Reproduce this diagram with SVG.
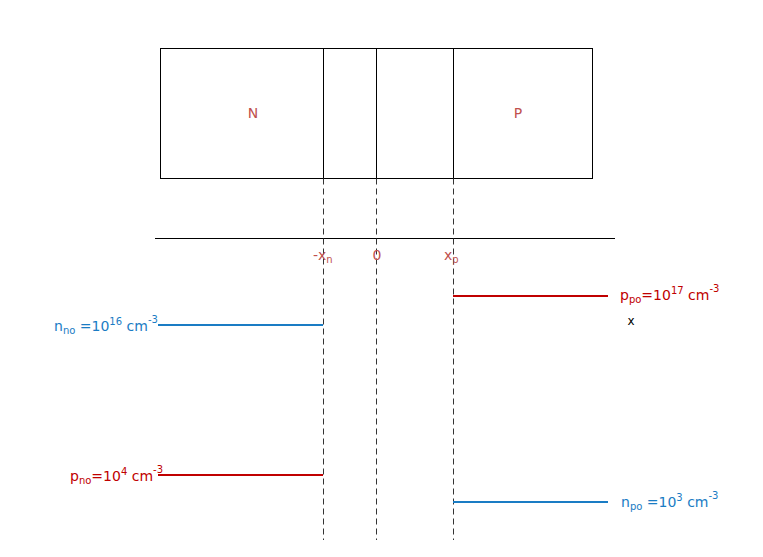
<svg xmlns="http://www.w3.org/2000/svg" width="763" height="557" viewBox="0 0 763 557">
<style>
.solid{stroke:#000;stroke-width:1;fill:none}
.dash{stroke:#333;stroke-width:1;stroke-dasharray:6,4;fill:none}
.blue{stroke:#1a7cc4;stroke-width:2}
.red{stroke:#c00000;stroke-width:2}
text{font-family:"DejaVu Sans",Verdana,sans-serif}
.lbl{fill:#c0504d;font-size:14px}
.tb{fill:#1a7cc4;font-size:14px}
.tr{fill:#c00000;font-size:14px}
.sub{font-size:10px}
</style>
<rect width="763" height="557" fill="#fff"/>
<g id="device">
<rect x="160.5" y="48.5" width="432" height="130" class="solid"/>
<line x1="323.5" y1="48.5" x2="323.5" y2="178.5" class="solid"/>
<line x1="376.5" y1="48.5" x2="376.5" y2="178.5" class="solid"/>
<line x1="453.5" y1="48.5" x2="453.5" y2="178.5" class="solid"/>
</g>
<g id="labelN"><text x="253" y="118" class="lbl" text-anchor="middle">N</text></g>
<g id="labelP"><text x="518" y="118" class="lbl" text-anchor="middle">P</text></g>
<g id="connectors">
<line x1="155" y1="238.5" x2="615" y2="238.5" class="solid"/>
<line x1="323.5" y1="178.5" x2="323.5" y2="540" class="dash"/>
<line x1="376.5" y1="178.5" x2="376.5" y2="540" class="dash"/>
<line x1="453.5" y1="178.5" x2="453.5" y2="540" class="dash"/>
<line x1="158" y1="325" x2="323" y2="325" class="blue"/>
<line x1="453" y1="296" x2="608" y2="296" class="red"/>
<line x1="158" y1="475" x2="323" y2="475" class="red"/>
<line x1="453" y1="502" x2="608" y2="502" class="blue"/>
</g>
<g id="axisLabels">
<text x="313" y="260" class="lbl">-x<tspan class="sub" dy="3">n</tspan></text>
<text x="377" y="260" class="lbl" text-anchor="middle">0</text>
<text x="444" y="260" class="lbl">x<tspan class="sub" dy="3">p</tspan></text>
</g>
<g id="nno"><text x="54" y="331" class="tb">n<tspan class="sub" dy="3">no</tspan><tspan dy="-3"> =10</tspan><tspan class="sub" dy="-6">16</tspan><tspan dy="6"> cm</tspan><tspan class="sub" dy="-8">-3</tspan></text></g>
<g id="ppo"><text x="620" y="300" class="tr">p<tspan class="sub" dy="3">po</tspan><tspan dy="-3">=10</tspan><tspan class="sub" dy="-6">17</tspan><tspan dy="6"> cm</tspan><tspan class="sub" dy="-8">-3</tspan></text></g>
<g id="xmark"><text x="631" y="325" font-size="12" fill="#000" text-anchor="middle">x</text></g>
<g id="pno"><text x="70" y="481" class="tr">p<tspan class="sub" dy="3">no</tspan><tspan dy="-3">=10</tspan><tspan class="sub" dy="-6">4</tspan><tspan dy="6"> cm</tspan><tspan class="sub" dy="-8">-3</tspan></text></g>
<g id="npo"><text x="621" y="507" class="tb">n<tspan class="sub" dy="3">po</tspan><tspan dy="-3"> =10</tspan><tspan class="sub" dy="-6">3</tspan><tspan dy="6"> cm</tspan><tspan class="sub" dy="-8">-3</tspan></text></g>
</svg>
